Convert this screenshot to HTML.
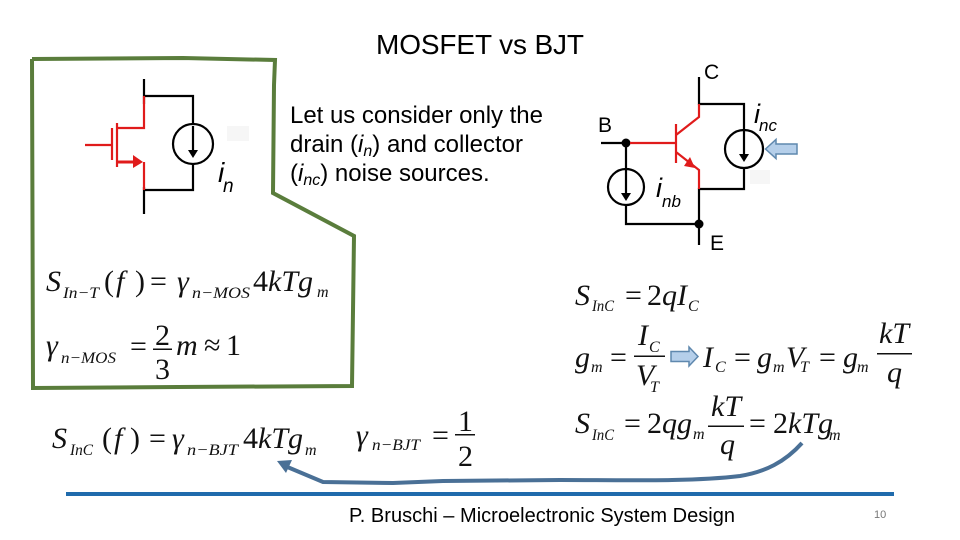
<!DOCTYPE html>
<html><head><meta charset="utf-8"><style>
html,body{margin:0;padding:0;background:#fff}
svg{display:block}
.s{font-family:"Liberation Sans",sans-serif;fill:#000}
.m{font-family:"Liberation Serif",serif;fill:#111;font-size:30px}
.i{font-style:italic}
.b{font-size:16px;font-style:italic}
.l{font-family:"Liberation Sans",sans-serif;font-style:italic;fill:#000}
</style></head><body>
<svg width="960" height="540" viewBox="0 0 960 540" xmlns="http://www.w3.org/2000/svg">
<rect width="960" height="540" fill="#fff"/>
<!-- green outline -->
<polyline points="32,59 183,58 275,60 274,85 273,193 354,236 352,386 178,387 33,388 32,59" fill="none" stroke="#5a7d3c" stroke-width="4"/>
<rect x="227" y="126" width="22" height="15" fill="#f6f6f6"/>
<rect x="750" y="170" width="20" height="14" fill="#f6f6f6"/>
<!-- MOSFET -->
<g fill="none" stroke="#000" stroke-width="2.2">
<path d="M144 79V104M144 187V214M144 96H193V124M193 164V190H144"/>
<circle cx="193" cy="144" r="20"/>
<path d="M193 126V150"/>
</g>
<path d="M188 150H198L193 158Z" fill="#000"/>
<g fill="none" stroke="#e01b1b" stroke-width="2.2">
<path d="M85 145H112M112 128V160M117 123V167M117 128H144V96M144 162V190"/>
<path d="M117 162H134" stroke-width="3"/>
</g>
<path d="M133 155L143 162L133 168Z" fill="#e01b1b"/>
<text class="l" x="218" y="182" font-size="28">i</text>
<text class="l" x="223" y="192" font-size="19">n</text>
<!-- Text -->
<text class="s" x="376" y="54" font-size="28" textLength="208">MOSFET vs BJT</text>
<text class="s" x="290" y="123" font-size="24" textLength="253">Let us consider only the</text>
<text class="s" x="290" y="152" font-size="24">drain (<tspan font-style="italic">i</tspan><tspan font-style="italic" font-size="16" dy="4">n</tspan><tspan dy="-4">) and collector</tspan></text>
<text class="s" x="290" y="181" font-size="24">(<tspan font-style="italic">i</tspan><tspan font-style="italic" font-size="16" dy="4">nc</tspan><tspan dy="-4">) noise sources.</tspan></text>
<!-- BJT -->
<g fill="none" stroke="#000" stroke-width="2.2">
<path d="M699 77V104H744V130M744 168V189H699V245M699 224H626V205M626 169V143H601"/>
<circle cx="744" cy="149" r="19"/>
<circle cx="626" cy="187" r="18"/>
<path d="M744 131V155M626 169V194"/>
</g>
<path d="M739 154H749L744 162Z" fill="#000"/>
<path d="M621 193H631L626 201Z" fill="#000"/>
<circle cx="626" cy="143" r="4.500" fill="#000"/>
<circle cx="699" cy="224" r="4.500" fill="#000"/>
<g fill="none" stroke="#e01b1b" stroke-width="2.200">
<path d="M630 143H676M676 124V163M676 135L699 117V104M676 152L699 170V189"/>
</g>
<path d="M684 166L695 168L690 157Z" fill="#e01b1b"/>
<text class="s" x="704" y="79" font-size="21" fill="#222">C</text>
<text class="s" x="598" y="132" font-size="21" fill="#222">B</text>
<text class="s" x="710" y="250" font-size="21" fill="#222">E</text>
<text class="l" x="754" y="123" font-size="27">i</text>
<text class="l" x="759" y="131" font-size="17">nc</text>
<text class="l" x="656" y="197" font-size="27">i</text>
<text class="l" x="662" y="207" font-size="17">nb</text>
<path d="M765.500 149L776 139.500V144H797V154H776V158.500Z" fill="#b5cfea" stroke="#5f88ae" stroke-width="1.500"/>
<!-- Eq MOS -->
<text class="m i" x="46" y="291">S</text>
<text class="m b" x="63" y="298" textLength="36" lengthAdjust="spacingAndGlyphs">In−T</text>
<text class="m" x="104" y="291">(</text><text class="m i" x="116" y="291">f</text><text class="m" x="135" y="291">)</text>
<text class="m" x="150" y="291">=</text>
<text class="m i" x="177" y="291">γ</text>
<text class="m b" x="192" y="298" textLength="58" lengthAdjust="spacingAndGlyphs">n−MOS</text>
<text class="m" x="253" y="291">4<tspan font-style="italic">kTg</tspan></text>
<text class="m b" x="317" y="297" font-size="17">m</text>
<text class="m i" x="46" y="355">γ</text>
<text class="m b" x="61" y="363" textLength="55" lengthAdjust="spacingAndGlyphs">n−MOS</text>
<text class="m" x="130" y="356">=</text>
<text class="m" x="155" y="345">2</text>
<rect x="153" y="348.500" width="19" height="1.500" fill="#111"/>
<text class="m" x="155" y="379">3</text>
<text class="m i" x="176" y="355">m</text>
<text class="m" x="204" y="355">≈</text>
<text class="m" x="226" y="355">1</text>
<!-- Eq BJT right -->
<text class="m i" x="575" y="305">S</text>
<text class="m b" x="592" y="311" textLength="22" lengthAdjust="spacingAndGlyphs">InC</text>
<text class="m" x="625" y="305">=</text>
<text class="m" x="647" y="305">2<tspan font-style="italic">qI</tspan></text>
<text class="m b" x="688" y="311">C</text>

<text class="m i" x="575" y="367">g</text>
<text class="m b" x="591" y="372">m</text>
<text class="m" x="610" y="367">=</text>
<text class="m i" x="638" y="345">I</text>
<text class="m b" x="649" y="352">C</text>
<rect x="634" y="355.500" width="31" height="1.500" fill="#111"/>
<text class="m i" x="636" y="385">V</text>
<text class="m b" x="650" y="392">T</text>
<path d="M671 351.500H689V347L698 356.500L689 366V361.500H671Z" fill="#b5cfea" stroke="#5f88ae" stroke-width="1.500"/>
<text class="m i" x="703" y="367">I</text>
<text class="m b" x="715" y="372">C</text>
<text class="m" x="734" y="367">=</text>
<text class="m i" x="757" y="367">g</text>
<text class="m b" x="773" y="372">m</text>
<text class="m i" x="786" y="367">V</text>
<text class="m b" x="800" y="372">T</text>
<text class="m" x="819" y="367">=</text>
<text class="m i" x="843" y="367">g</text>
<text class="m b" x="857" y="372">m</text>
<text class="m i" x="879" y="343">kT</text>
<rect x="877" y="353" width="35" height="1.500" fill="#111"/>
<text class="m i" x="887" y="382">q</text>

<text class="m i" x="575" y="433">S</text>
<text class="m b" x="592" y="440" textLength="22" lengthAdjust="spacingAndGlyphs">InC</text>
<text class="m" x="624" y="433">=</text>
<text class="m" x="647" y="433">2<tspan font-style="italic">qg</tspan></text>
<text class="m b" x="693" y="439">m</text>
<text class="m i" x="711" y="416">kT</text>
<rect x="708" y="425.500" width="36" height="1.500" fill="#111"/>
<text class="m i" x="720" y="454">q</text>
<text class="m" x="749" y="433">=</text>
<text class="m" x="773" y="433">2<tspan font-style="italic">kTg</tspan></text>
<text class="m b" x="829" y="440">m</text>
<!-- Eq bottom -->
<text class="m i" x="52" y="448">S</text>
<text class="m b" x="70" y="455" textLength="23" lengthAdjust="spacingAndGlyphs">InC</text>
<text class="m" x="102" y="448">(</text><text class="m i" x="114" y="448">f</text><text class="m" x="130" y="448">)</text>
<text class="m" x="149" y="448">=</text>
<text class="m i" x="172" y="448">γ</text>
<text class="m b" x="187" y="455" textLength="51" lengthAdjust="spacingAndGlyphs">n−BJT</text>
<text class="m" x="243" y="448">4<tspan font-style="italic">kTg</tspan></text>
<text class="m b" x="305" y="455">m</text>
<text class="m i" x="356" y="445">γ</text>
<text class="m b" x="372" y="450" textLength="48" lengthAdjust="spacingAndGlyphs">n−BJT</text>
<text class="m" x="432" y="445">=</text>
<text class="m" x="458" y="431">1</text>
<rect x="455" y="434" width="20" height="1.500" fill="#111"/>
<text class="m" x="458" y="466">2</text>
<!-- curved arrow -->
<path d="M802 443C785 462 765 472 740 476C690 482 620 480 560 480L443 481L393 483L323 482L285 466" fill="none" stroke="#4a7096" stroke-width="4"/>
<path d="M277 461L292 460L286 473Z" fill="#4a7096"/>
<!-- footer -->
<rect x="66" y="492" width="828" height="4" fill="#1f6bac"/>
<text class="s" x="349" y="522" font-size="20" textLength="386">P. Bruschi – Microelectronic System Design</text>
<text x="874" y="518" font-size="11" font-family="Liberation Sans, sans-serif" fill="#777">10</text>
</svg>
</body></html>
